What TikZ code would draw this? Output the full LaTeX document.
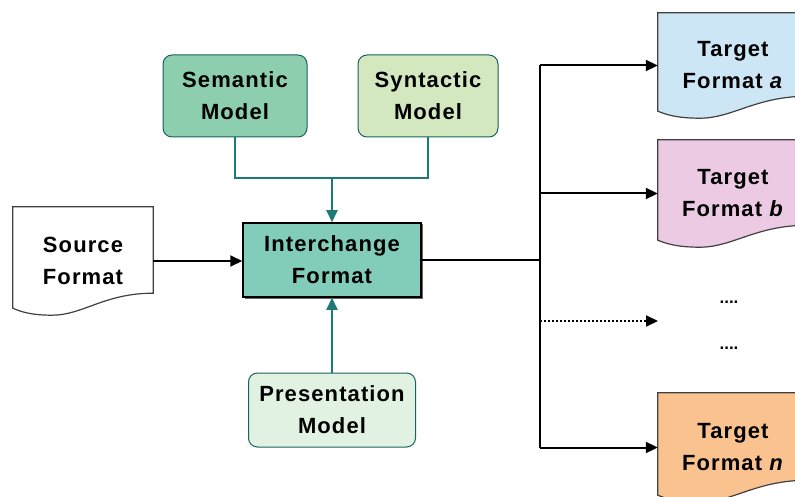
\documentclass[tikz,border=0pt]{standalone}
\usepackage{fontspec}
\setmainfont{Liberation Sans}
\usetikzlibrary{arrows.meta,backgrounds,shadows,calc}
\definecolor{semfill}{RGB}{140,206,174}
\definecolor{synfill}{RGB}{212,232,192}
\definecolor{presfill}{RGB}{226,242,226}
\definecolor{interfill}{RGB}{130,204,186}
\definecolor{tafill}{RGB}{204,230,246}
\definecolor{tbfill}{RGB}{236,202,228}
\definecolor{tnfill}{RGB}{250,194,142}
\definecolor{tealline}{RGB}{30,122,116}
\tikzset{
 lbl/.style={font=\fontsize{22}{32}\selectfont\bfseries\addfontfeature{LetterSpace=5},align=center,inner sep=0pt},
 model/.style={lbl,draw=tealline!80!black,line width=1pt,rounded corners=9pt,minimum height=82pt},
 doc/.style={lbl,minimum width=#1},
 link/.style={draw=tealline,line width=2pt},
 linkarrow/.style={link,-{Triangle[length=12pt,width=11pt]}},
 feed/.style={line width=2pt},
 feedarrow/.style={feed,-{Triangle[length=12pt,width=11pt]}},
}
% document outline with wavy bottom, drawn behind a doc node
\newcommand{\docshape}[2]{%
\begin{scope}[on background layer]
\path let \p1=(#1.north west),\p2=(#1.south east) in
 [fill=#2,draw=black!75,line width=1.2pt](\x1,\y1)--(\x2,\y1)--(\x2,\y2+22pt)
 .. controls ({\x2-0.35*(\x2-\x1)},\y2+22pt) and ({\x1+0.5*(\x2-\x1)},\y2) .. ({\x1+0.28*(\x2-\x1)},\y2)
 .. controls ({\x1+0.12*(\x2-\x1)},\y2) and ({\x1+0.05*(\x2-\x1)},\y2+4pt) .. (\x1,\y2+7pt)--cycle;
\end{scope}}
\begin{document}
\begin{tikzpicture}[x=1pt,y=1pt]
\useasboundingbox(0,0)rectangle(795,-497);
\node[model,fill=semfill,minimum width=144pt](sem)at(235,-96){Semantic\\Model};
\node[model,fill=synfill,minimum width=140pt](syn)at(428,-96){Syntactic\\Model};
\node[model,fill=presfill,minimum width=167pt,minimum height=74pt](pres)at(332,-410){Presentation\\Model};
\node[lbl,draw,line width=1.5pt,fill=interfill,minimum width=178pt,minimum height=74pt,
 drop shadow={shadow xshift=1.5pt,shadow yshift=-1.5pt,fill=black!60,opacity=1}](inter)at(332,-260){Interchange\\Format};
\node[doc=140pt,minimum height=108pt](src)at(83,-261){Source\\Format};
\docshape{src}{white}
\foreach \tg/\y/\h/\c/\f in {ta/65.5/105/a/tafill,tb/193.5/107/b/tbfill,tn/447.5/109/n/tnfill}{
 \node[doc=150pt,minimum height=\h pt](\tg)at(733,-\y){Target\\Format \textit{\c}};
 \docshape{\tg}{\f}}
\foreach \tg/\y in {d1/302,d2/348}{\node[lbl,font=\fontsize{17}{17}\selectfont\bfseries](\tg)at(729,-\y){....};}
% models into the interchange format
\coordinate(bus)at(inter.north|-0,-178);
\draw[link](sem.south)--(sem.south|-bus)--(syn.south|-bus)--(syn.south);
\draw[linkarrow](bus)--(inter.north);
\draw[linkarrow](pres.north)--(inter.south);
% source in, targets out
\draw[feedarrow](src.east)--(src.east-|inter.west);
\coordinate(trunk)at(540,0);
\draw[feed](inter.east)--(inter.east-|trunk);
\draw[feed](trunk|-ta.west)--(trunk|-tn.west);
\foreach \tg in {ta,tb,tn}{\draw[feedarrow](trunk|-\tg.west)--(\tg.west);}
\coordinate(tmore)at(658,-321);
\draw[feedarrow,dotted](trunk|-tmore)--(tmore);
\end{tikzpicture}
\end{document}
